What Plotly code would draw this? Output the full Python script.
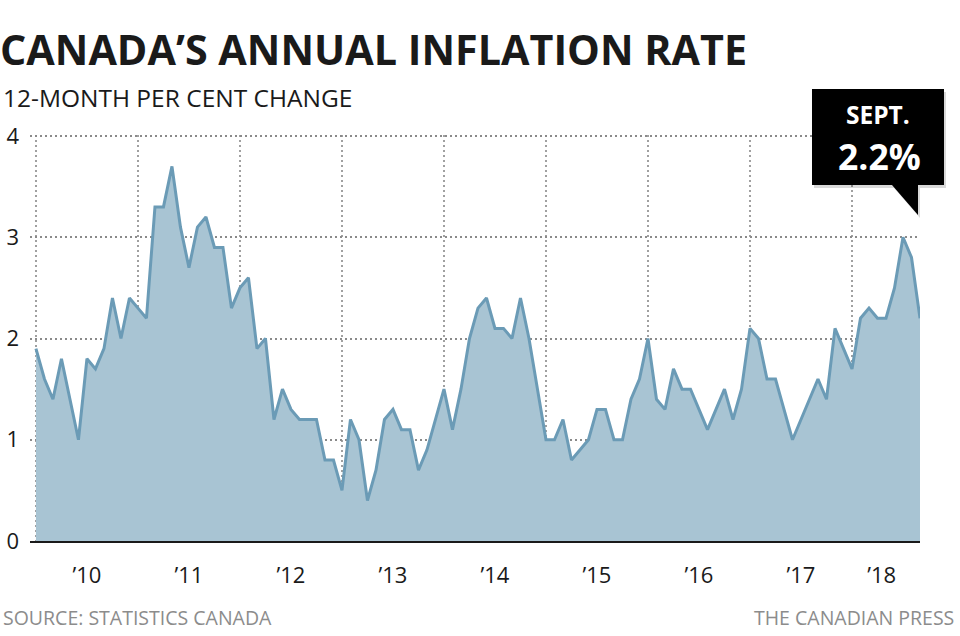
import plotly.graph_objects as go

# ---- data ----
cpi_2010 = [1.9, 1.6, 1.4, 1.8, 1.4, 1.0, 1.8, 1.7, 1.9, 2.4, 2.0, 2.4]
cpi_2011 = [2.3, 2.2, 3.3, 3.3, 3.7, 3.1, 2.7, 3.1, 3.2, 2.9, 2.9, 2.3]
cpi_2012 = [2.5, 2.6, 1.9, 2.0, 1.2, 1.5, 1.3, 1.2, 1.2, 1.2, 0.8, 0.8]
cpi_2013 = [0.5, 1.2, 1.0, 0.4, 0.7, 1.2, 1.3, 1.1, 1.1, 0.7, 0.9, 1.2]
cpi_2014 = [1.5, 1.1, 1.5, 2.0, 2.3, 2.4, 2.1, 2.1, 2.0, 2.4, 2.0, 1.5]
cpi_2015 = [1.0, 1.0, 1.2, 0.8, 0.9, 1.0, 1.3, 1.3, 1.0, 1.0, 1.4, 1.6]
cpi_2016 = [2.0, 1.4, 1.3, 1.7, 1.5, 1.5, 1.3, 1.1, 1.3, 1.5, 1.2, 1.5]
cpi_2017 = [2.1, 2.0, 1.6, 1.6, 1.3, 1.0, 1.2, 1.4, 1.6, 1.4, 2.1, 1.9]
cpi_2018 = [1.7, 2.2, 2.3, 2.2, 2.2, 2.5, 3.0, 2.8, 2.2]
values = (cpi_2010 + cpi_2011 + cpi_2012 + cpi_2013 + cpi_2014 +
          cpi_2015 + cpi_2016 + cpi_2017 + cpi_2018)
x_index = list(range(len(values)))  # 0 = Jan 2010 ... 104 = Sept 2018

year_labels = ["’10", "’11", "’12", "’13", "’14", "’15", "’16", "’17", "’18"]
year_label_pos = [6, 18, 30, 42, 54, 66, 78, 90, 99.5]
january_pos = [0, 12, 24, 36, 48, 60, 72, 84, 96]
y_ticks = [0, 1, 2, 3, 4]

callout_month = "SEPT."
callout_value = f"{values[-1]}%"

# ---- layout helpers (pixel -> paper) ----
W, H = 960, 636
L, R, T, B = 30, 920, 135, 541
def px(x):
    return (x - L) / (R - L)
def py(y):
    return (B - y) / (B - T)

FONT = "Open Sans"

fig = go.Figure()
fig.add_trace(go.Scatter(
    x=x_index, y=values, mode="lines",
    fill="tozeroy", fillcolor="#a8c4d3",
    line=dict(color="#6b9bb6", width=3),
    hoverinfo="skip", showlegend=False,
))

fig.update_layout(
    width=W, height=H,
    margin=dict(l=L, r=W - R, t=T, b=H - B, autoexpand=False),
    paper_bgcolor="white", plot_bgcolor="white",
    font=dict(family=FONT, color="#1a1a1a"),
    xaxis=dict(
        range=[-0.7, 104], tickmode="array",
        tickvals=year_label_pos, ticktext=year_labels,
        showgrid=False, zeroline=False, automargin=False,
        ticks="", ticklabelstandoff=14,
        tickfont=dict(size=22, color="#1a1a1a", family=FONT),
        showline=True, linecolor="#1a1a1a", linewidth=2,
        layer="above traces",
        minor=dict(tickvals=january_pos, showgrid=True,
                   gridcolor="#a0a0a0", griddash="2px,3px", gridwidth=2,
                   ticks=""),
    ),
    yaxis=dict(
        range=[0, 4.01], tickmode="array", tickvals=y_ticks,
        ticktext=[str(v) for v in y_ticks],
        showgrid=True, gridcolor="#8a8a8a", griddash="2px,3px", gridwidth=2,
        zeroline=False, ticks="", ticklabelstandoff=10, automargin=False,
        tickfont=dict(size=22, color="#1a1a1a", family=FONT),
        layer="above traces",
    ),
)

# Title and subtitle
fig.add_annotation(text="<b>CANADA’S ANNUAL INFLATION RATE</b>",
                   xref="paper", yref="paper", x=px(-2), y=py(49),
                   xanchor="left", yanchor="middle", showarrow=False,
                   font=dict(size=41.3, color="#1a1a1a", family=FONT))
fig.add_annotation(text="12-MONTH PER CENT CHANGE",
                   xref="paper", yref="paper", x=px(1), y=py(97),
                   xanchor="left", yanchor="middle", showarrow=False,
                   font=dict(size=24.5, color="#1a1a1a", family=FONT))
# Footer
fig.add_annotation(text="SOURCE: STATISTICS CANADA",
                   xref="paper", yref="paper", x=px(1), y=py(617),
                   xanchor="left", yanchor="middle", showarrow=False,
                   font=dict(size=19.5, color="#8c8c8c", family=FONT))
fig.add_annotation(text="THE CANADIAN PRESS",
                   xref="paper", yref="paper", x=px(956), y=py(617),
                   xanchor="right", yanchor="middle", showarrow=False,
                   font=dict(size=19.5, color="#8c8c8c", family=FONT))

# Callout box with pointer
def path_from(points):
    return "M " + " L ".join(f"{px(a):.5f},{py(b):.5f}" for a, b in points) + " Z"

box = [(812, 89), (944, 89), (944, 185), (918, 185), (918, 215), (892, 185), (812, 185)]
shadow = [(a + 2, b + 3) for a, b in box]
fig.add_shape(type="path", xref="paper", yref="paper", path=path_from(shadow),
              fillcolor="rgba(0,0,0,0.15)", line=dict(width=0), layer="above")
fig.add_shape(type="path", xref="paper", yref="paper", path=path_from(box),
              fillcolor="#000000", line=dict(width=0), layer="above")
fig.add_annotation(text=f"<b>{callout_month}</b>",
                   xref="paper", yref="paper", x=px(878), y=py(114.5),
                   xanchor="center", yanchor="middle", showarrow=False,
                   font=dict(size=24.5, color="white", family=FONT))
fig.add_annotation(text=f"<b>{callout_value}</b>",
                   xref="paper", yref="paper", x=px(879), y=py(155.5),
                   xanchor="center", yanchor="middle", showarrow=False,
                   font=dict(size=35.5, color="white", family=FONT))

fig.write_html("out.html", config={"displayModeBar": False},
               post_script="document.body.style.margin='0';")
